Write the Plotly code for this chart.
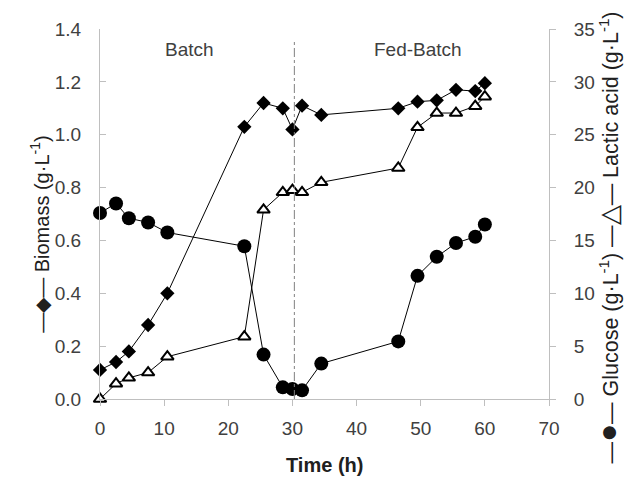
import plotly.graph_objects as go

time_h = [0, 2.5, 4.5, 7.5, 10.5, 22.5, 25.5, 28.5, 30, 31.5, 34.5, 46.5, 49.5, 52.5, 55.5, 58.5, 60]
biomass = [0.11, 0.14, 0.18, 0.28, 0.40, 1.03, 1.12, 1.10, 1.02, 1.11, 1.075, 1.10, 1.125, 1.13, 1.17, 1.165, 1.195]
lactic = [0.0, 1.45, 2.0, 2.5, 4.0, 5.9, 17.9, 19.55, 19.75, 19.55, 20.5, 21.85, 25.7, 27.05, 27.05, 27.7, 28.6]
glucose = [17.6, 18.5, 17.1, 16.7, 15.75, 14.45, 4.2, 1.1, 0.95, 0.82, 3.35, 5.45, 11.65, 13.45, 14.75, 15.35, 16.5]

x_ticks = [0, 10, 20, 30, 40, 50, 60, 70]
left_ticks = [0.0, 0.2, 0.4, 0.6, 0.8, 1.0, 1.2, 1.4]
right_ticks = [0, 5, 10, 15, 20, 25, 30, 35]
phase_switch = 30.3

FONT = "Liberation Sans, Arial, sans-serif"
AX = "#bfbfbf"
TXT = "#404040"

fig = go.Figure()
fig.add_trace(go.Scatter(
    x=time_h, y=biomass, mode="lines+markers", name="Biomass",
    line=dict(color="black", width=1),
    marker=dict(symbol="diamond", size=11, color="black"),
    cliponaxis=False, yaxis="y"))
fig.add_trace(go.Scatter(
    x=time_h, y=glucose, mode="lines+markers", name="Glucose",
    line=dict(color="black", width=1),
    marker=dict(symbol="circle", size=14, color="black"),
    cliponaxis=False, yaxis="y2"))
fig.add_trace(go.Scatter(
    x=time_h, y=lactic, mode="lines+markers", name="Lactic acid",
    line=dict(color="black", width=1),
    marker=dict(symbol="triangle-up", size=11, color="white",
                line=dict(color="black", width=2)),
    cliponaxis=False, yaxis="y2"))

fig.add_shape(type="line", xref="x", yref="paper", x0=phase_switch, x1=phase_switch,
              y0=0, y1=0.966, line=dict(color="#808080", width=1, dash="dashdot"))

fig.add_annotation(text="Batch", x=14, y=0.979, xref="x", yref="paper",
                   showarrow=False, font=dict(family=FONT, size=19, color=TXT))
fig.add_annotation(text="Fed-Batch", x=49.5, y=0.979, xref="x", yref="paper",
                   showarrow=False, font=dict(family=FONT, size=19, color=TXT))

fig.add_annotation(text="—◆— Biomass (g·L<sup>-1</sup>)", x=-0.167, y=0.445,
                   xref="paper", yref="paper", textangle=-90, showarrow=False,
                   font=dict(family=FONT, size=20, color="#202020"))
fig.add_annotation(text="—<span style='font-size:30px'>●</span>— Glucose (g·L<sup>-1</sup>) "
                        "—<span style='font-size:26px'>△</span>— Lactic acid (g·L<sup>-1</sup>)",
                   x=1.171, y=0.437, xref="paper", yref="paper", textangle=-90,
                   showarrow=False, font=dict(family=FONT, size=21.5, color="#202020"))
fig.add_annotation(text="<b>Time (h)</b>", x=0.5, y=-0.178, xref="paper", yref="paper",
                   yanchor="middle", showarrow=False,
                   font=dict(family=FONT, size=20, color="#202020"))

fig.update_layout(
    width=629, height=469,
    margin=dict(l=92, r=88, t=21, b=78, autoexpand=False),
    paper_bgcolor="white", plot_bgcolor="white",
    showlegend=False,
    font=dict(family=FONT, size=19, color=TXT),
    xaxis=dict(range=[0, 70], tickvals=x_ticks, showgrid=False, zeroline=False,
               showline=True, linecolor=AX, linewidth=1, automargin=False,
               ticks="outside", ticklen=6, tickcolor=AX, ticklabelstandoff=6),
    yaxis=dict(range=[0, 1.4], tickvals=left_ticks, tickformat=".1f", showgrid=False,
               zeroline=False, showline=True, linecolor=AX, linewidth=1, automargin=False,
               ticks="inside", ticklen=6, tickcolor=AX, ticklabelstandoff=14),
    yaxis2=dict(range=[0, 35], tickvals=right_ticks, overlaying="y", side="right",
                showgrid=False, zeroline=False, showline=True, linecolor=AX, linewidth=1,
                automargin=False,
                ticks="outside", ticklen=6, tickcolor=AX, ticklabelstandoff=14),
)

fig.write_html("out.html")
